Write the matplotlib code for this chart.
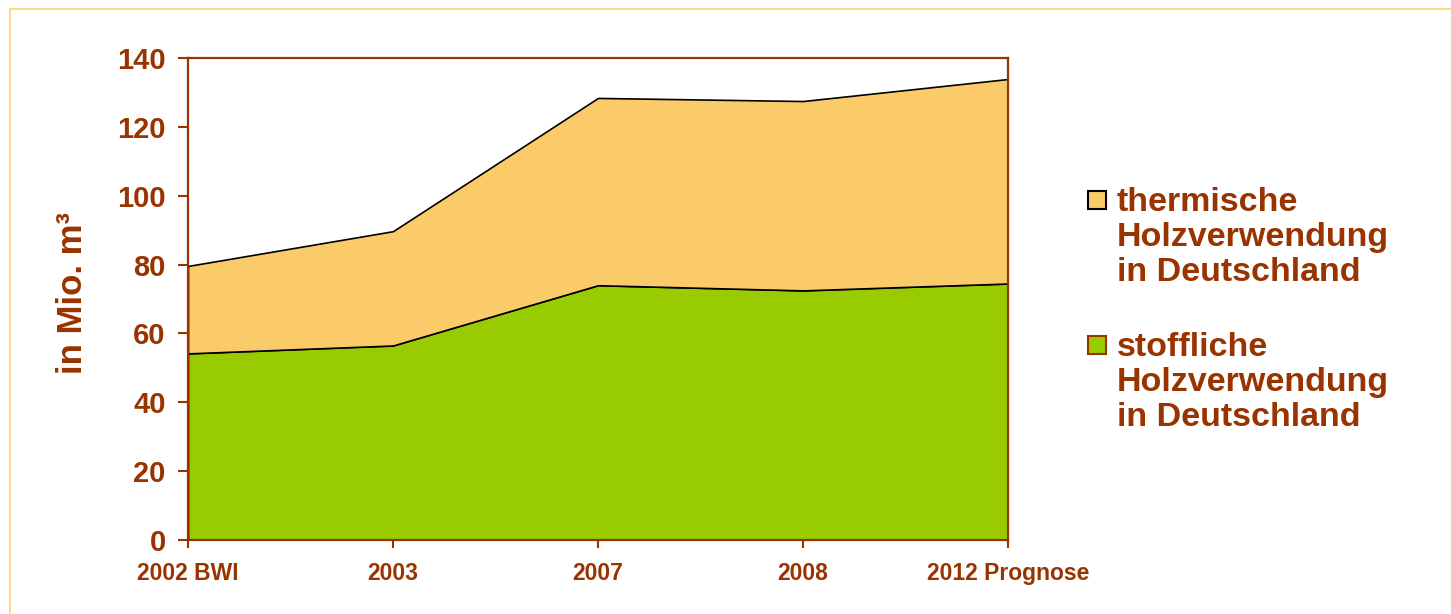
import matplotlib
matplotlib.use("Agg")
import matplotlib.pyplot as plt
from matplotlib.patches import Rectangle

# Holzverwendung in Deutschland, Mio. m³
categories = ["2002 BWI", "2003", "2007", "2008", "2012 Prognose"]
stofflich = [54.2, 56.5, 74.0, 72.5, 74.5]
thermisch = [25.4, 33.2, 54.4, 55.0, 59.4]
legend_labels = [
    "thermische\nHolzverwendung\nin Deutschland",
    "stoffliche\nHolzverwendung\nin Deutschland",
]

BROWN = "#993300"
GREEN = "#99CC00"
ORANGE = "#FBCB6A"

plt.rcParams["font.family"] = ["Liberation Sans", "DejaVu Sans"]
plt.rcParams["font.weight"] = "bold"

fig = plt.figure(figsize=(14.51, 6.14), dpi=100)
ax = fig.add_axes([188 / 1451, 1 - 540 / 614, (1008 - 188) / 1451, (540 - 58) / 614])

x = list(range(len(categories)))
total = [s + t for s, t in zip(stofflich, thermisch)]
ax.fill_between(x, 0, stofflich, facecolor=GREEN, edgecolor="black", linewidth=1.2)
ax.fill_between(x, stofflich, total, facecolor=ORANGE, edgecolor="black", linewidth=1.2)

ax.set_xlim(0, len(categories) - 1)
ax.set_ylim(0, 140)
ax.set_yticks(range(0, 141, 20))
ax.set_xticks(x)
ax.set_xticklabels(categories, fontsize=16.5, fontweight="bold", color=BROWN)
for lbl in ax.get_yticklabels():
    lbl.set_fontsize(21)
    lbl.set_fontweight("bold")
    lbl.set_color(BROWN)
ax.tick_params(axis="y", direction="out", length=7, width=1.5, color=BROWN, pad=9)
ax.tick_params(axis="x", direction="out", length=6, width=1.5, color=BROWN, pad=10)
for sp in ax.spines.values():
    sp.set_color(BROWN)
    sp.set_linewidth(1.6)

ax.set_ylabel("in Mio. m³", fontsize=25, fontweight="bold", color=BROWN)
ax.yaxis.set_label_coords(-0.121, 0.512)

# legend drawn by hand so the box sits at the first text line
colors = [ORANGE, GREEN]
edges = ["black", BROWN]
tops = [188, 333]
for lab, col, ec, top in zip(legend_labels, colors, edges, tops):
    fig.patches.append(Rectangle((1088 / 1451, 1 - (top + 21) / 614), 18 / 1451, 18 / 614,
                                 transform=fig.transFigure, facecolor=col,
                                 edgecolor=ec, linewidth=1.5))
    fig.text(1117 / 1451, 1 - (top - 1) / 614, lab, fontsize=24.5, fontweight="bold",
             color=BROWN, va="top", ha="left", linespacing=1.16)

# light frame around the slide
fig.patches.append(Rectangle((10 / 1451, -0.05), 1.1, 1 - 9 / 614 + 0.05,
                             transform=fig.transFigure, fill=False,
                             edgecolor="#FFD88C", linewidth=1.5))

fig.savefig("out.png", dpi=100)
